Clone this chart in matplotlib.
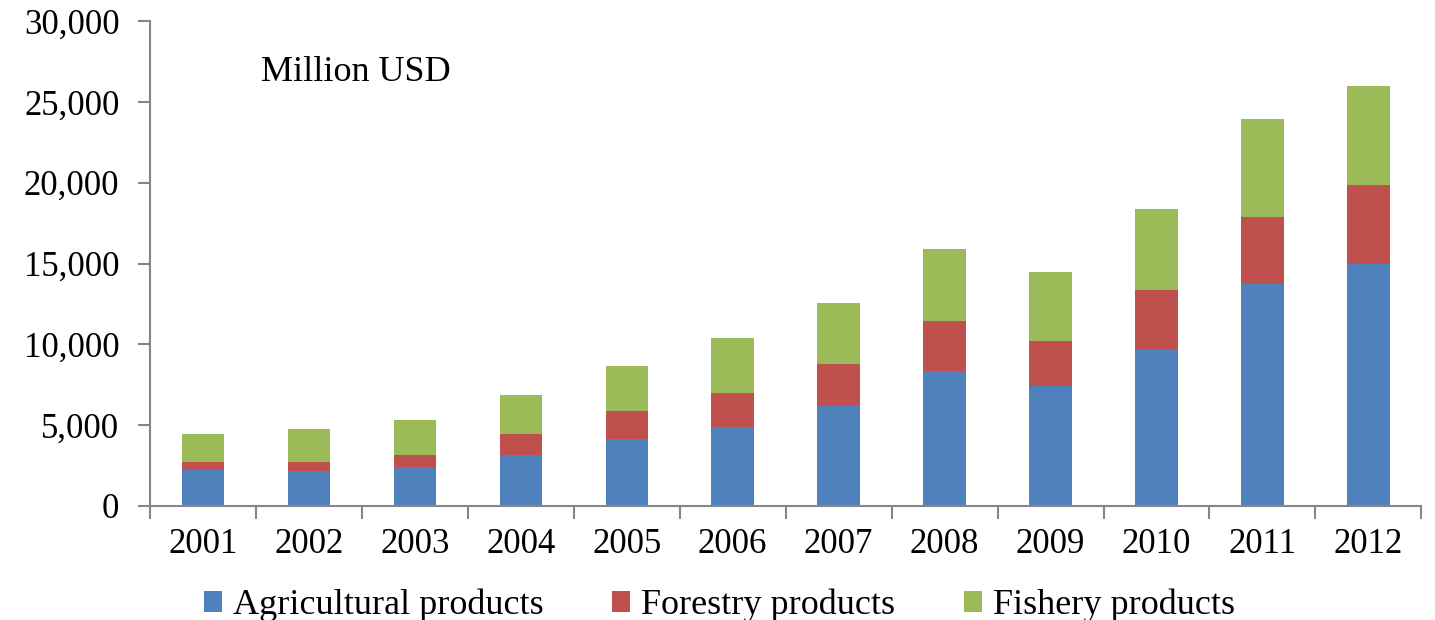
import numpy as np
import matplotlib.pyplot as plt
from matplotlib.ticker import FuncFormatter, FixedLocator

# values (million USD)
years = ['2001', '2002', '2003', '2004', '2005', '2006',
         '2007', '2008', '2009', '2010', '2011', '2012']
agri = [2230, 2130, 2400, 3120, 4150, 4870, 6170, 8340, 7450, 9720, 13740, 15000]
forest = [460, 560, 740, 1300, 1730, 2110, 2640, 3110, 2730, 3650, 4110, 4850]
fish = [1730, 2100, 2180, 2450, 2750, 3380, 3720, 4460, 4290, 5000, 6090, 6110]

plt.rcParams['font.family'] = ['Liberation Serif', 'DejaVu Serif']

fig = plt.figure(figsize=(14.35, 6.2), dpi=100)
ax = fig.add_axes([0.1045, 0.184, 0.886, 0.782])

x = np.arange(len(years))
agri = np.array(agri)
forest = np.array(forest)
fish = np.array(fish)

w = 0.40
ax.bar(x, agri, w, color='#4F81BD', label='Agricultural products')
ax.bar(x, forest, w, bottom=agri, color='#C0504D', label='Forestry products')
ax.bar(x, fish, w, bottom=agri + forest, color='#9BBB59', label='Fishery products')

ax.set_xlim(-0.5, len(years) - 0.5)
ax.set_ylim(0, 30000)
ax.set_yticks(np.arange(0, 30001, 5000))
ax.yaxis.set_major_formatter(FuncFormatter(lambda v, p: '{:,.0f}'.format(v)))

# category labels in the middle, tick marks between categories
ax.set_xticks(x)
ax.set_xticklabels(years)
ax.xaxis.set_minor_locator(FixedLocator(np.arange(-0.5, len(years), 1.0)))
ax.tick_params(axis='x', which='major', length=0, pad=16, labelsize=25)
ax.tick_params(axis='x', which='minor', length=9, width=1.5, color='#868686', direction='out')
ax.tick_params(axis='y', length=9, width=1.5, color='#868686', direction='out', pad=13, labelsize=25)

for s in ['top', 'right']:
    ax.spines[s].set_visible(False)
for s in ['left', 'bottom']:
    ax.spines[s].set_color('#868686')
    ax.spines[s].set_linewidth(1.5)

ax.text(0.087, 0.893, 'Million USD', transform=ax.transAxes, fontsize=26,
        va='center', ha='left')

ax.legend(loc='center', bbox_to_anchor=(0.448, -0.205), ncol=3, frameon=False,
          fontsize=26, handlelength=0.5, handleheight=0.5, handletextpad=0.3,
          columnspacing=1.9)

fig.savefig('out.png', dpi=100)
